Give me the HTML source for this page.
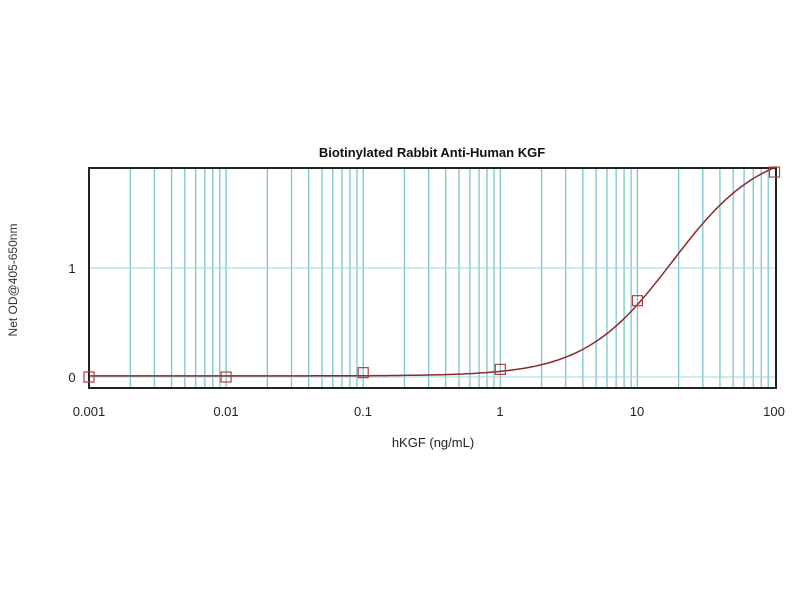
<!DOCTYPE html>
<html><head><style>
body{margin:0;background:#fff;width:800px;height:600px;overflow:hidden}
svg text{font-family:"Liberation Sans",Arial,sans-serif}
</style></head><body>
<svg id="s" width="800" height="600" xmlns="http://www.w3.org/2000/svg">
<text x="432" y="157" font-size="13" font-weight="bold" text-anchor="middle" fill="#111">Biotinylated Rabbit Anti-Human KGF</text>
<g id="grid"></g>
<rect x="89" y="168" width="687" height="220" fill="none" stroke="#222" stroke-width="2"/>
<text x="433" y="447" font-size="13" text-anchor="middle" fill="#222">hKGF (ng/mL)</text>
<text transform="translate(17,280) rotate(-90)" font-size="12" text-anchor="middle" fill="#333">Net OD@405-650nm</text>
<g font-size="13" fill="#222" text-anchor="middle">
<text x="89" y="416">0.001</text><text x="226" y="416">0.01</text><text x="363" y="416">0.1</text>
<text x="500" y="416">1</text><text x="637" y="416">10</text><text x="774" y="416">100</text>
<text x="72" y="273">1</text><text x="72" y="382">0</text>
</g>
<g id="curve"></g>
</svg>
<script>
var X=function(v){return 89+137.1*(Math.log10(v)+3)},Y=function(v){return 377-109*v};
var g='';
for(var e=-3;e<2;e++)for(var k=1;k<10;k++){var x=X(k*Math.pow(10,e));g+='<line x1="'+x+'" y1="168" x2="'+x+'" y2="388" stroke="#7cc6d0" stroke-width="1.3"/>';}
g+='<line x1="89" y1="268" x2="776" y2="268" stroke="#9fd4da" stroke-width="1"/>';
g+='<line x1="89" y1="377" x2="776" y2="377" stroke="#9fd4da" stroke-width="1"/>';
document.getElementById('grid').innerHTML=g;
var p='';
for(var i=0;i<=200;i++){var lx=-3+5*i/200,x=Math.pow(10,lx),r=Math.pow(x/18,1.35),y=0.01+2.1*r/(1+r);p+=(i?'L':'M')+X(x).toFixed(1)+' '+Y(y).toFixed(1);}
var c='<path d="'+p+'" fill="none" stroke="#8b2a2a" stroke-width="1.5"/>';
[[0.001,0],[0.01,0],[0.1,0.04],[1,0.07],[10,0.7],[100,1.88]].forEach(function(d){c+='<rect x="'+(X(d[0])-5)+'" y="'+(Y(d[1])-5)+'" width="10" height="10" fill="none" stroke="#b04040" stroke-width="1.2"/>';});
document.getElementById('curve').innerHTML=c;
</script>
</body></html>
